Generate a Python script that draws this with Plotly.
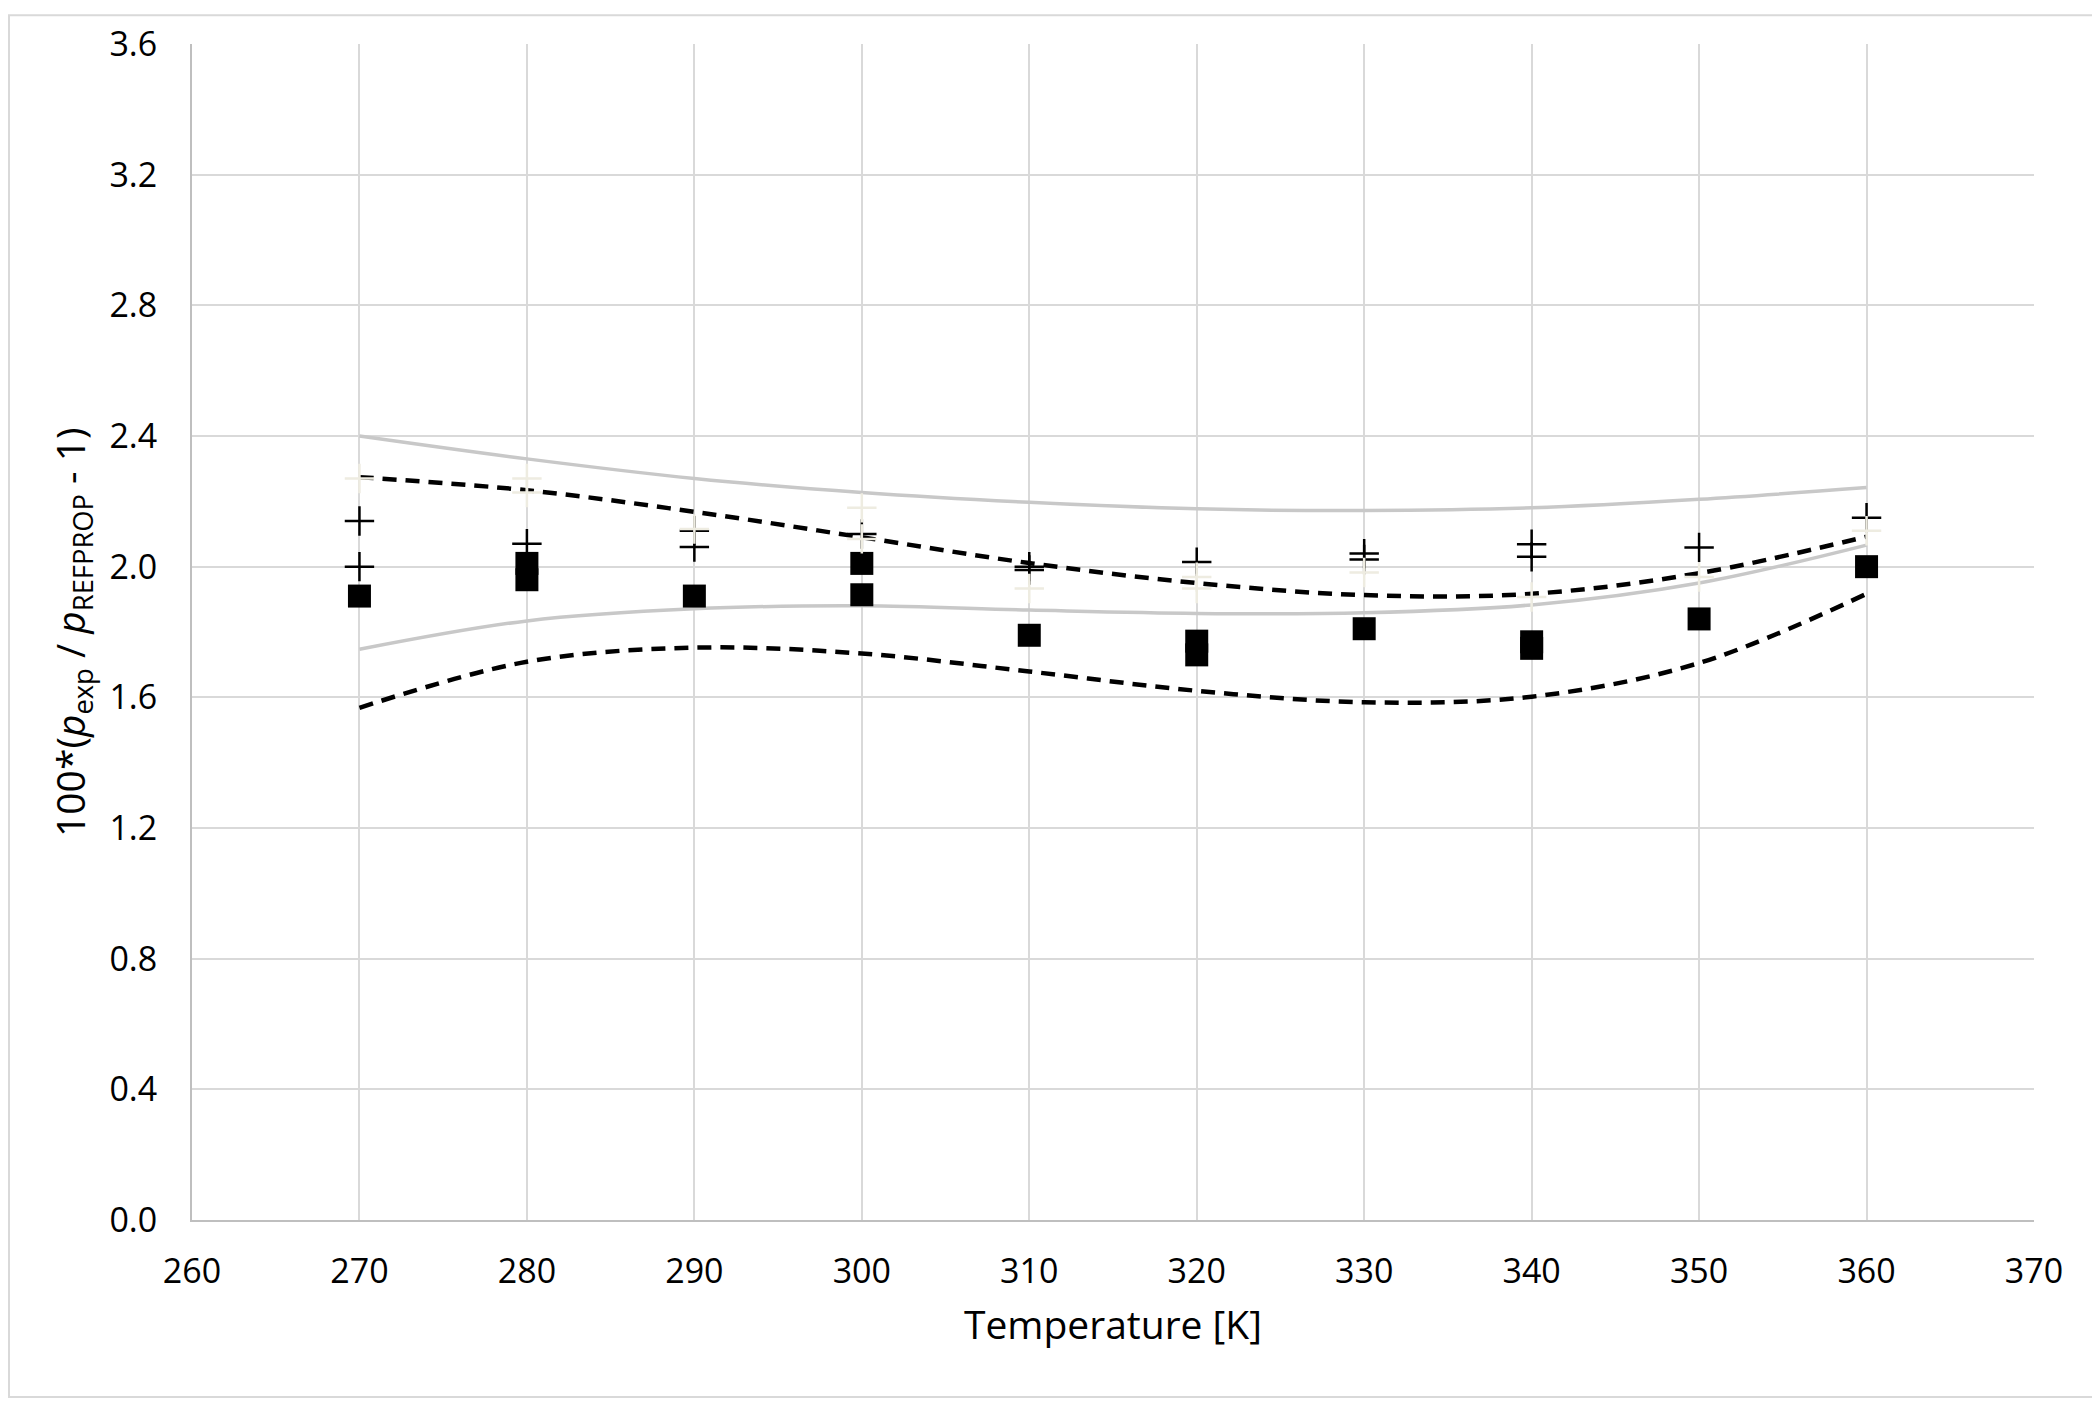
import plotly.graph_objects as go

# Temperatures of the curves [K]
temp_curve = [270, 280, 290, 300, 310, 320, 330, 340, 350, 360]
upper_solid = [2.40, 2.33, 2.27, 2.227, 2.197, 2.177, 2.172, 2.18, 2.206, 2.242]
lower_solid = [1.747, 1.834, 1.871, 1.88, 1.867, 1.857, 1.859, 1.883, 1.95, 2.066]
upper_dash = [2.274, 2.234, 2.168, 2.09, 2.011, 1.95, 1.913, 1.917, 1.98, 2.092]
lower_dash = [1.568, 1.709, 1.752, 1.734, 1.679, 1.62, 1.585, 1.602, 1.705, 1.917]

# Square markers
sq_T = [270, 280, 280, 290, 300, 300, 310, 320, 320, 330, 340, 340, 350, 360]
sq_y = [1.91, 2.01, 1.96, 1.91, 2.01, 1.914, 1.79, 1.772, 1.73, 1.81, 1.77, 1.75, 1.84, 2.00]

# Black plus markers
plus_T = [270, 270, 280, 290, 290, 300, 310, 310, 320, 330, 330, 340, 340, 350, 360]
plus_y = [2.14, 2.00, 2.07, 2.11, 2.06, 2.10, 2.00, 1.99, 2.014, 2.04, 2.022, 2.069, 2.03, 2.059, 2.15]

# Light (cream) plus markers
cream_T = [270, 280, 280, 290, 300, 300, 310, 320, 320, 330, 340, 350, 360]
cream_y = [2.27, 2.27, 2.227, 2.115, 2.18, 2.085, 1.933, 1.968, 1.933, 1.982, 1.907, 1.968, 2.11]

FONT = "Open Sans"

fig = go.Figure()

for ys in (upper_solid, lower_solid):
    fig.add_trace(go.Scatter(x=temp_curve, y=ys, mode="lines", line_shape="spline",
                             line=dict(color="#C8C8C8", width=3.5), showlegend=False))
for ys in (upper_dash, lower_dash):
    fig.add_trace(go.Scatter(x=temp_curve, y=ys, mode="lines", line_shape="spline",
                             line=dict(color="black", width=4.5, dash="14px,9px"), showlegend=False))

fig.add_trace(go.Scatter(x=sq_T, y=sq_y, mode="markers",
                         marker=dict(symbol="square", size=23, color="black"), showlegend=False))
fig.add_trace(go.Scatter(x=plus_T, y=plus_y, mode="markers",
                         marker=dict(symbol="cross-thin", size=21, line=dict(color="black", width=2.5)),
                         showlegend=False))
fig.add_trace(go.Scatter(x=cream_T, y=cream_y, mode="markers",
                         marker=dict(symbol="cross-thin", size=21, line=dict(color="#EEECE1", width=2.5)),
                         showlegend=False))

# plot area in figure pixels (page body adds an 8px offset)
W, H = 2100, 1402
L, R, T, B = 184, 2026, 30, 1212
pw, ph = R - L, B - T

# outer chart frame
fig.add_shape(type="rect", xref="paper", yref="paper",
              x0=(1 - L) / pw, x1=(2090 - L) / pw,
              y0=(B - 1390) / ph, y1=(B - 1) / ph,
              line=dict(color="#D9D9D9", width=2), layer="below")

# y-axis title
fig.add_annotation(text="100*(<i>p</i><sub>exp</sub> / <i>p</i><sub>REFPROP</sub> - 1)",
                   xref="paper", yref="paper", x=(64 - L) / pw, y=0.5,
                   xanchor="center", yanchor="middle", textangle=-90, showarrow=False,
                   font=dict(size=39, family=FONT, color="black"))

fig.update_layout(
    width=W, height=H,
    margin=dict(l=L, r=W - R, t=T, b=H - B),
    plot_bgcolor="white", paper_bgcolor="white",
    font=dict(family=FONT, color="black"),
    xaxis=dict(
        range=[260, 370], dtick=10, tick0=260,
        showgrid=True, gridcolor="#D9D9D9", gridwidth=2,
        showline=True, linecolor="#BFBFBF", linewidth=2,
        zeroline=False, ticks="", ticklabelstandoff=20,
        tickfont=dict(size=34, family=FONT),
        title=dict(text="Temperature [K]", font=dict(size=39, family=FONT), standoff=20),
    ),
    yaxis=dict(
        range=[0, 3.6], dtick=0.4, tick0=0, tickformat=".1f",
        showgrid=True, gridcolor="#D9D9D9", gridwidth=2,
        showline=True, linecolor="#BFBFBF", linewidth=2,
        zeroline=False, ticks="", ticklabelstandoff=26,
        tickfont=dict(size=34, family=FONT),
    ),
)

fig.write_html("out.html")
